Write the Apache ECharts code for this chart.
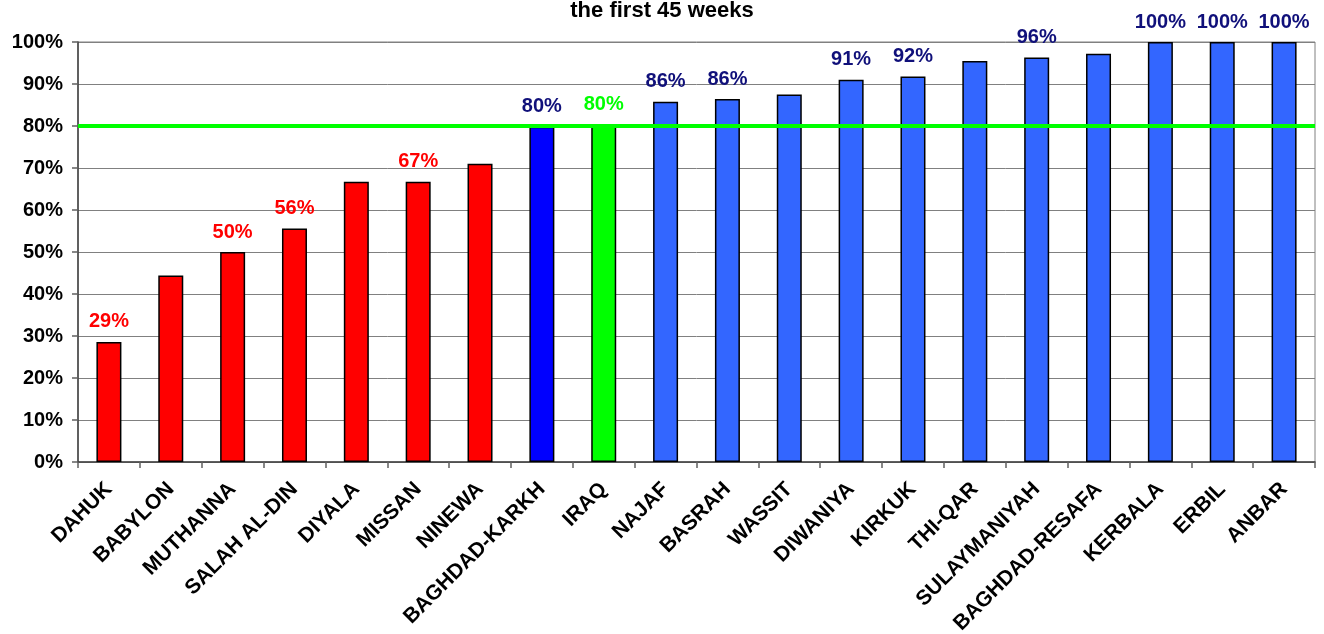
<!DOCTYPE html>
<html>
<head>
<meta charset="utf-8">
<script src="https://cdn.jsdelivr.net/npm/echarts@6/dist/echarts.min.js"></script>
<style>
html,body{margin:0;padding:0;background:#fff;}
#c{width:1324px;height:634px;}
</style>
</head>
<body>
<div id="c"></div>
<script>
var titleText = 'the first 45 weeks';
var categories = ['DAHUK','BABYLON','MUTHANNA','SALAH AL-DIN','DIYALA','MISSAN','NINEWA','BAGHDAD-KARKH','IRAQ','NAJAF','BASRAH','WASSIT','DIWANIYA','KIRKUK','THI-QAR','SULAYMANIYAH','BAGHDAD-RESAFA','KERBALA','ERBIL','ANBAR'];
var values = [28.6,44.4,50.0,55.6,66.7,66.7,71.0,79.8,80.4,85.8,86.4,87.5,91.0,91.8,95.5,96.3,97.2,100,100,100];
var groups = ['low','low','low','low','low','low','low','karkh','iraq','high','high','high','high','high','high','high','high','high','high','high'];
var showLabel = [true,false,true,true,false,true,false,true,true,true,true,false,true,true,false,true,false,true,true,true];
var targetValue = 80;
var yTicks = [0,10,20,30,40,50,60,70,80,90,100];

var barColors = {low:'#FF0000', karkh:'#0000FF', iraq:'#00FF00', high:'#3366FF'};
var labelColors = {low:'#FF0000', karkh:'#10107A', iraq:'#00FF00', high:'#10107A'};
var FONT = "'Liberation Sans', Arial, sans-serif";

var data = values.map(function(v,i){
  return {
    value: v,
    itemStyle: {color: barColors[groups[i]]},
    label: {show: showLabel[i], color: labelColors[groups[i]]}
  };
});

var chart = echarts.init(document.getElementById('c'), null, {renderer:'canvas'});
chart.setOption({
  animation: false,
  backgroundColor: '#fff',
  title: {
    text: titleText, left: 'center', top: 0, padding: 0,
    textStyle: {fontFamily: FONT, fontWeight: 'bold', fontSize: 22, color: '#000'}
  },
  grid: {left: 78, right: 9, top: 42, bottom: 172, show: true, borderColor: '#808080', borderWidth: 1,
         containLabel: false, outerBoundsMode: 'none'},
  xAxis: {
    type: 'category', data: categories,
    axisLine: {lineStyle: {color: '#404040', width: 1.5}},
    axisTick: {show: true, length: 6, lineStyle: {color: '#606060', width: 1.5}},
    axisLabel: {interval: 0, rotate: 45, margin: 24, fontFamily: FONT, fontWeight: 'bold', fontSize: 21, color: '#000'}
  },
  yAxis: {
    type: 'value', min: yTicks[0], max: yTicks[yTicks.length-1], interval: 10,
    axisLine: {show: true, lineStyle: {color: '#404040', width: 1.5}},
    axisTick: {show: true, length: 6, lineStyle: {color: '#606060', width: 1.5}},
    splitLine: {lineStyle: {color: '#808080', width: 1}},
    axisLabel: {formatter: '{value}%', margin: 15, fontFamily: FONT, fontWeight: 'bold', fontSize: 20, color: '#000'}
  },
  series: [{
    type: 'bar', data: data, barWidth: 25,
    itemStyle: {borderColor: '#000', borderWidth: 1.5},
    label: {
      position: 'top', distance: 10,
      fontFamily: FONT, fontWeight: 'bold', fontSize: 20,
      formatter: function(p){ return Math.round(p.value) + '%'; }
    },
    markLine: {
      silent: true, symbol: 'none',
      label: {show: false},
      lineStyle: {color: '#00FF00', width: 4, type: 'solid'},
      data: [{yAxis: targetValue}]
    },
    z: 2
  }]
});
</script>
</body>
</html>
